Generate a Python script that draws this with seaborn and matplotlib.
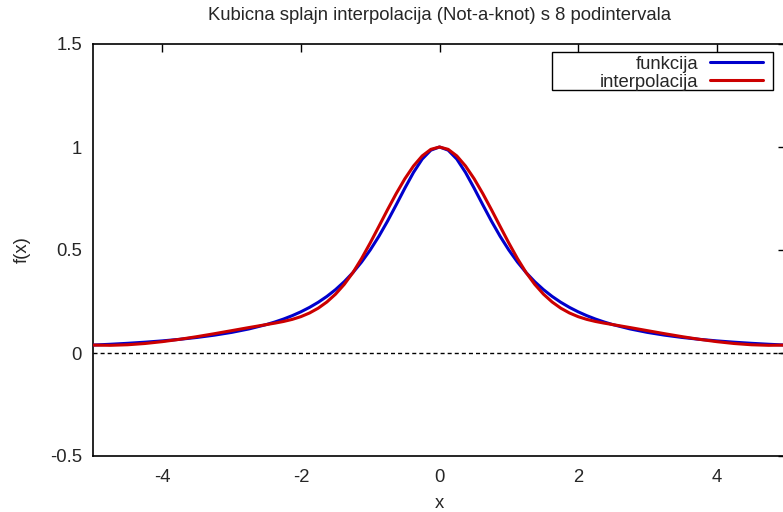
import matplotlib
matplotlib.use("Agg")
import matplotlib.pyplot as plt
from matplotlib.patches import Rectangle
import seaborn as sns
import pandas as pd

# sample positions (x) and values
x_vals = [-5.0, -4.75, -4.5, -4.25, -4.0, -3.75, -3.5, -3.25, -3.0, -2.75, -2.5,
          -2.375, -2.25, -2.125, -2.0, -1.875, -1.75, -1.625, -1.5, -1.375, -1.25,
          -1.125, -1.0, -0.875, -0.75, -0.625, -0.5, -0.375, -0.25, -0.125, 0.0,
          0.125, 0.25, 0.375, 0.5, 0.625, 0.75, 0.875, 1.0, 1.125, 1.25,
          1.375, 1.5, 1.625, 1.75, 1.875, 2.0, 2.125, 2.25, 2.375, 2.5,
          2.75, 3.0, 3.25, 3.5, 3.75, 4.0, 4.25, 4.5, 4.75, 5.0]

funkcija = [0.0385, 0.0424, 0.0471, 0.0525, 0.0588, 0.0664, 0.0755, 0.0865, 0.1000, 0.1168, 0.1379,
            0.1506, 0.1649, 0.1813, 0.2000, 0.2215, 0.2462, 0.2747, 0.3077, 0.3460, 0.3902,
            0.4414, 0.5000, 0.5664, 0.6400, 0.7191, 0.8000, 0.8767, 0.9412, 0.9846, 1.0000,
            0.9846, 0.9412, 0.8767, 0.8000, 0.7191, 0.6400, 0.5664, 0.5000, 0.4414, 0.3902,
            0.3460, 0.3077, 0.2747, 0.2462, 0.2215, 0.2000, 0.1813, 0.1649, 0.1506, 0.1379,
            0.1168, 0.1000, 0.0865, 0.0755, 0.0664, 0.0588, 0.0525, 0.0471, 0.0424, 0.0385]

interpolacija = [0.0385, 0.0373, 0.0400, 0.0461, 0.0551, 0.0664, 0.0794, 0.0936, 0.1085, 0.1235, 0.1379,
                 0.1450, 0.1531, 0.1632, 0.1765, 0.1943, 0.2176, 0.2477, 0.2857, 0.3329, 0.3902,
                 0.4583, 0.5342, 0.6144, 0.6955, 0.7737, 0.8458, 0.9079, 0.9567, 0.9886, 1.0000,
                 0.9886, 0.9567, 0.9079, 0.8458, 0.7737, 0.6955, 0.6144, 0.5342, 0.4583, 0.3902,
                 0.3329, 0.2857, 0.2477, 0.2176, 0.1943, 0.1765, 0.1632, 0.1531, 0.1450, 0.1379,
                 0.1235, 0.1085, 0.0936, 0.0794, 0.0664, 0.0551, 0.0461, 0.0400, 0.0373, 0.0385]

x_ticks = [-4, -2, 0, 2, 4]
x_tick_labels = ["-4", "-2", "0", "2", "4"]
y_ticks = [-0.5, 0, 0.5, 1, 1.5]
y_tick_labels = ["-0.5", "0", "0.5", "1", "1.5"]
zero_line = [0.0, 0.0]
zero_x = [-5.0, 5.0]

title = "Kubicna splajn interpolacija (Not-a-knot) s 8 podintervala"

sns.set_style("white")
plt.rcParams["font.family"] = ["Liberation Sans", "DejaVu Sans"]
plt.rcParams["axes.unicode_minus"] = False
FS = 13.3

W, H = 783, 512
fig = plt.figure(figsize=(W / 100, H / 100), dpi=100)
ax = fig.add_axes([93 / W, (H - 456) / H, (786 - 93) / W, (456 - 44) / H])

df = pd.DataFrame({"x": x_vals, "funkcija": funkcija, "interpolacija": interpolacija})

ax.plot(zero_x, zero_line, color="black", lw=1.0, dashes=(2.9, 2.2), zorder=1)
sns.lineplot(data=df, x="x", y="funkcija", ax=ax, color="#0000cc", lw=2.2,
             label="funkcija", sort=False, estimator=None, zorder=3)
sns.lineplot(data=df, x="x", y="interpolacija", ax=ax, color="#cc0000", lw=2.2,
             label="interpolacija", sort=False, estimator=None, zorder=4)

ax.set_xlim(-5, 5)
ax.set_ylim(-0.5, 1.5)
ax.set_xticks(x_ticks)
ax.set_xticklabels(x_tick_labels, fontsize=FS)
ax.set_yticks(y_ticks)
ax.set_yticklabels(y_tick_labels, fontsize=FS)
ax.tick_params(direction="in", length=6, width=1, top=True, right=True,
               color="black", pad=8)
ax.tick_params(axis="x", pad=9.5)
for s in ax.spines.values():
    s.set_visible(True)
    s.set_color("black")
    s.set_linewidth(1.2)

ax.set_xlabel("x", fontsize=FS, labelpad=6)
ax.set_ylabel("f(x)", fontsize=FS, labelpad=14)
ax.set_title(title, fontsize=FS, pad=17)

# legend box (gnuplot-style key frame, wider on the left)
box = Rectangle((552 / W, 1 - 90 / H), (773 - 552) / W, (90 - 52) / H,
                transform=fig.transFigure, facecolor="white", edgecolor="black",
                lw=1.0, zorder=5, clip_on=False)
ax.add_patch(box)

leg = ax.legend(loc="upper right", bbox_to_anchor=(766.7 / W, 1 - 52 / H),
                bbox_transform=fig.transFigure, borderaxespad=0,
                fontsize=FS, markerfirst=False, frameon=False,
                handlelength=2.87, handletextpad=0.65,
                labelspacing=0.05, borderpad=0.2)
leg.set_zorder(6)

fig.savefig("out.png", dpi=100)
